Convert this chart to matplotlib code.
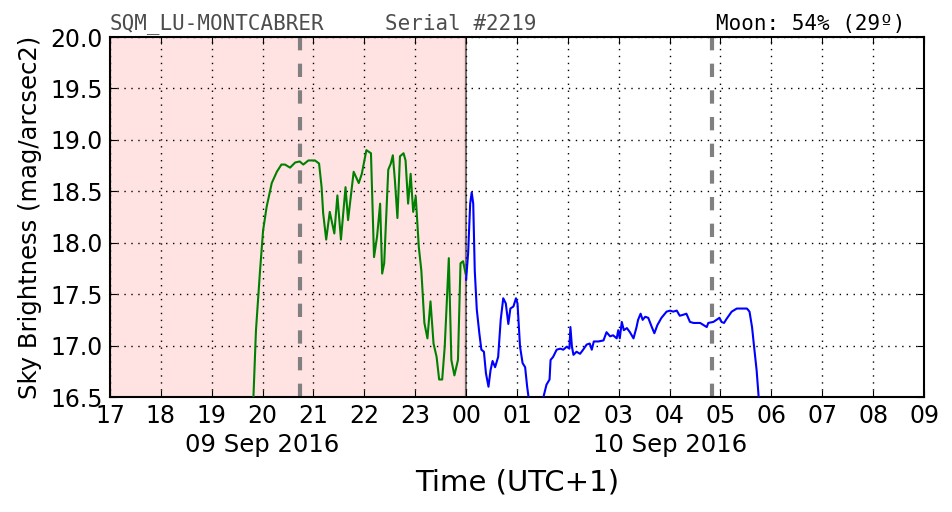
import numpy as np
import matplotlib as mpl
mpl.use('Agg')
import matplotlib.pyplot as plt
from matplotlib.transforms import blended_transform_factory

# hours since midnight of 09 Sep 2016 (UTC+1); >24 means 10 Sep
green_t = [19.82, 19.87, 19.95, 20.01, 20.08, 20.18, 20.28, 20.37, 20.44, 20.54,
           20.64, 20.73, 20.80, 20.90, 21.03, 21.11, 21.16, 21.19, 21.25, 21.32,
           21.41, 21.47, 21.54, 21.63, 21.68, 21.79, 21.89, 21.95, 22.04, 22.13,
           22.19, 22.25, 22.31, 22.35, 22.39, 22.47, 22.52, 22.56, 22.60, 22.65,
           22.70, 22.77, 22.81, 22.86, 22.91, 22.96, 23.01, 23.07, 23.12, 23.18,
           23.24, 23.30, 23.36, 23.42, 23.47, 23.53, 23.58, 23.66, 23.71, 23.77,
           23.84, 23.89, 23.94, 23.99]
green_mag = [16.50, 17.15, 17.73, 18.12, 18.35, 18.58, 18.69, 18.76, 18.76, 18.73,
             18.78, 18.79, 18.76, 18.80, 18.80, 18.77, 18.54, 18.29, 18.03, 18.30,
             18.09, 18.46, 18.03, 18.54, 18.22, 18.69, 18.58, 18.67, 18.90, 18.87,
             17.86, 18.06, 18.38, 17.70, 17.80, 18.71, 18.77, 18.85, 18.61, 18.24,
             18.84, 18.87, 18.80, 18.38, 18.67, 18.30, 18.45, 17.96, 17.73, 17.22,
             17.07, 17.43, 17.02, 16.89, 16.67, 16.67, 16.99, 17.85, 16.86, 16.71,
             16.86, 17.80, 17.82, 17.70]

blue_t = [24.00, 24.04, 24.08, 24.11, 24.14, 24.17, 24.21, 24.26, 24.30, 24.35,
          24.39, 24.44, 24.48, 24.52, 24.57, 24.63, 24.68, 24.73, 24.78, 24.83,
          24.87, 24.93, 24.98, 25.01, 25.06, 25.11, 25.16, 25.20, 25.24, 25.40,
          25.52, 25.58, 25.64, 25.66, 25.71, 25.78, 25.85, 25.91, 25.98, 26.03,
          26.05, 26.08, 26.11, 26.17, 26.24, 26.30, 26.37, 26.43, 26.47, 26.51,
          26.60, 26.70, 26.76, 26.83, 26.89, 26.96, 26.99, 27.02, 27.06, 27.10,
          27.16, 27.22, 27.29, 27.35, 27.38, 27.43, 27.47, 27.52, 27.58, 27.65,
          27.70, 27.76, 27.84, 27.94, 28.01, 28.07, 28.14, 28.20, 28.27, 28.33,
          28.40, 28.47, 28.60, 28.73, 28.76, 28.86, 28.92, 28.98, 29.02, 29.07,
          29.12, 29.22, 29.32, 29.42, 29.52, 29.57, 29.62, 29.66, 29.71, 29.75]
blue_mag = [17.64, 17.90, 18.38, 18.49, 18.38, 17.73, 17.35, 17.12, 16.96, 16.94,
            16.73, 16.60, 16.76, 16.85, 16.79, 16.89, 17.25, 17.46, 17.41, 17.21,
            17.36, 17.38, 17.46, 17.41, 16.99, 16.83, 16.79, 16.60, 16.45, 16.30,
            16.50, 16.62, 16.67, 16.86, 16.89, 16.96, 16.97, 16.96, 16.99, 16.97,
            17.18, 16.99, 16.91, 16.94, 16.92, 16.96, 17.01, 17.02, 16.96, 17.04,
            17.04, 17.05, 17.13, 17.09, 17.10, 17.07, 17.15, 17.07, 17.23, 17.15,
            17.17, 17.13, 17.07, 17.18, 17.25, 17.31, 17.25, 17.28, 17.27, 17.18,
            17.12, 17.20, 17.27, 17.33, 17.34, 17.33, 17.34, 17.29, 17.30, 17.31,
            17.23, 17.22, 17.22, 17.18, 17.22, 17.23, 17.25, 17.27, 17.23, 17.22,
            17.26, 17.33, 17.36, 17.36, 17.36, 17.33, 17.18, 16.99, 16.76, 16.50]

hour_ticks = list(range(17, 34))
hour_labels = ['%02d' % (h % 24) for h in hour_ticks]
date_labels = [(20.0, '09 Sep 2016'), (28.0, '10 Sep 2016')]
twilight = [20.73, 28.83]
night_end = 23.95
midnight = 24.0

fig = plt.figure(figsize=(9.52, 5.12), dpi=100)
ax = fig.add_axes([0.1155, 0.2246, 0.8551, 0.7031])

ax.axvspan(17, night_end, color='#ffe3e3', ec='#ffcccc', lw=1, zorder=0)
ax.axvline(midnight, color='0.4', lw=1.3, zorder=1)
for t in twilight:
    ax.axvline(t, color='0.5', lw=3, ls=(0, (3.2, 3.2)), zorder=2)

ax.plot(green_t, green_mag, color='green', lw=1.5, zorder=3)
ax.plot(blue_t, blue_mag, color='blue', lw=1.5, zorder=3)

ax.set_xlim(17, 33)
ax.set_ylim(16.5, 20.0)
ax.set_xticks(hour_ticks)
ax.set_xticklabels(hour_labels)
ax.set_yticks(np.arange(16.5, 20.01, 0.5))
ax.set_yticklabels(['%.1f' % v for v in np.arange(16.5, 20.01, 0.5)])
ax.tick_params(direction='in', top=True, right=True, length=5, labelsize=17, pad=5)
ax.grid(True, color='black', ls=(0, (1, 4)), lw=1)
for s in ax.spines.values():
    s.set_linewidth(1.5)

trans = blended_transform_factory(ax.transData, fig.transFigure)
for x, lab in date_labels:
    ax.text(x, 0.13, lab, transform=trans, ha='center', va='center', fontsize=17.5)

fig.text(0.543, 0.058, 'Time (UTC+1)', ha='center', va='center', fontsize=21)
ax.set_ylabel('Sky Brightness (mag/arcsec2)', fontsize=17.5, labelpad=6)

ax.text(0.0, 1.008, 'SQM_LU-MONTCABRER', transform=ax.transAxes, family='DejaVu Sans Mono',
        fontsize=15, color='0.3', ha='left', va='bottom')
ax.text(0.338, 1.008, 'Serial #2219', transform=ax.transAxes, family='DejaVu Sans Mono',
        fontsize=15, color='0.3', ha='left', va='bottom')
ax.text(0.977, 1.008, 'Moon: 54% (29º)', transform=ax.transAxes, family='DejaVu Sans Mono',
        fontsize=15, color='black', ha='right', va='bottom')

fig.savefig('out.png', dpi=100)
